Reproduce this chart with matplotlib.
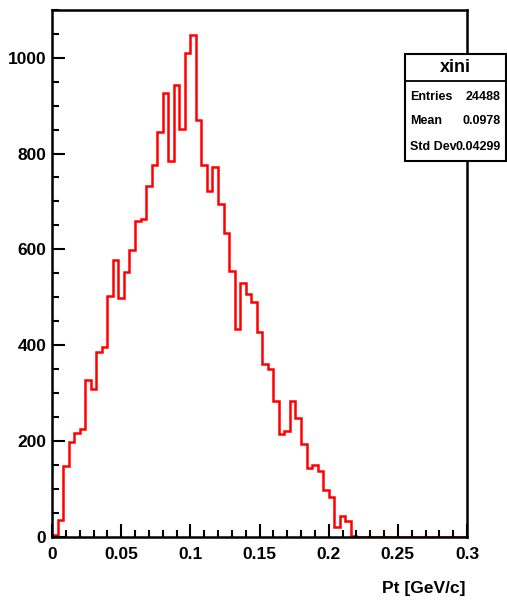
import matplotlib
matplotlib.use('Agg')
import matplotlib.pyplot as plt
import numpy as np
from matplotlib.patches import Rectangle
from matplotlib.ticker import MultipleLocator
from matplotlib.lines import Line2D

plt.rcParams['font.family'] = ['Liberation Sans', 'DejaVu Sans']
plt.rcParams['font.weight'] = 'bold'

# histogram of Pt, 75 bins from 0 to 0.3
x_lo, x_hi, n_bins = 0.0, 0.3, 75
counts = [4, 35, 148, 198, 216, 226, 327, 308, 386, 396,
          502, 577, 498, 553, 599, 659, 663, 733, 777, 844,
          926, 785, 943, 851, 1010, 1048, 870, 775, 721, 771,
          695, 635, 554, 433, 530, 507, 490, 428, 360, 351,
          284, 214, 221, 283, 249, 193, 144, 150, 138, 98,
          83, 21, 44, 33, 2, 0, 0, 0, 0, 0,
          0, 0, 0, 0, 0, 0, 0, 0, 0, 0,
          0, 0, 0, 0, 0]
hist_name = 'xini'
stat_names = ['Entries', 'Mean', 'Std Dev']
stat_values = ['24488', '0.0978', '0.04299']
x_ticks = [0, 0.05, 0.1, 0.15, 0.2, 0.25, 0.3]
x_tick_labels = ['0', '0.05', '0.1', '0.15', '0.2', '0.25', '0.3']

W, H = 507, 601
fig = plt.figure(figsize=(W / 100, H / 100), dpi=100)
ax = fig.add_axes([52 / W, 1 - 537 / H, (467 - 52) / W, (537 - 9.5) / H])

edges = np.linspace(x_lo, x_hi, n_bins + 1)
ax.stairs(counts, edges, color='red', lw=1.8, baseline=0)

ax.set_xlim(x_lo, x_hi)
ax.set_ylim(0, max(counts) * 1.05)
ax.set_xticks(x_ticks)
ax.set_xticklabels(x_tick_labels)
ax.xaxis.set_minor_locator(MultipleLocator(0.01))
ax.yaxis.set_major_locator(MultipleLocator(200))
ax.yaxis.set_minor_locator(MultipleLocator(50))
ax.tick_params(which='both', direction='in', top=False, right=False,
               width=1.5, labelsize=12.5)
ax.tick_params(which='major', length=9.5)
ax.tick_params(which='minor', length=5)
ax.tick_params(axis='y', pad=4)
ax.tick_params(axis='x', pad=7)
for lab in ax.get_xticklabels() + ax.get_yticklabels():
    lab.set_fontweight('bold')
for s in ax.spines.values():
    s.set_linewidth(1.8)

fig.text(466 / W, 1 - 588 / H, 'Pt [GeV/c]', ha='right', va='center',
         fontsize=12.5, fontweight='bold')

# stats box
bx0, bx1, by0, by1, bsep = 405, 506, 54, 161, 81
fig.add_artist(Rectangle((bx0 / W, 1 - by1 / H), (bx1 - bx0) / W, (by1 - by0) / H,
                         transform=fig.transFigure, facecolor='white',
                         edgecolor='black', lw=1.5, zorder=5))
fig.add_artist(Line2D([bx0 / W, bx1 / W], [1 - bsep / H, 1 - bsep / H],
                      transform=fig.transFigure, color='black', lw=1.3, zorder=6))
fig.text((bx0 + bx1) / 2 / W, 1 - 68 / H, hist_name, ha='center', va='center',
         fontsize=13, fontweight='bold', zorder=7)
row_y = [96.5, 121, 147]
for name, val, yy in zip(stat_names, stat_values, row_y):
    fig.text(410 / W, 1 - yy / H, name, ha='left', va='center',
             fontsize=9, fontweight='bold', zorder=7)
    fig.text(501 / W, 1 - yy / H, val, ha='right', va='center',
             fontsize=9, fontweight='bold', zorder=7)

fig.savefig('out.png', dpi=100)
